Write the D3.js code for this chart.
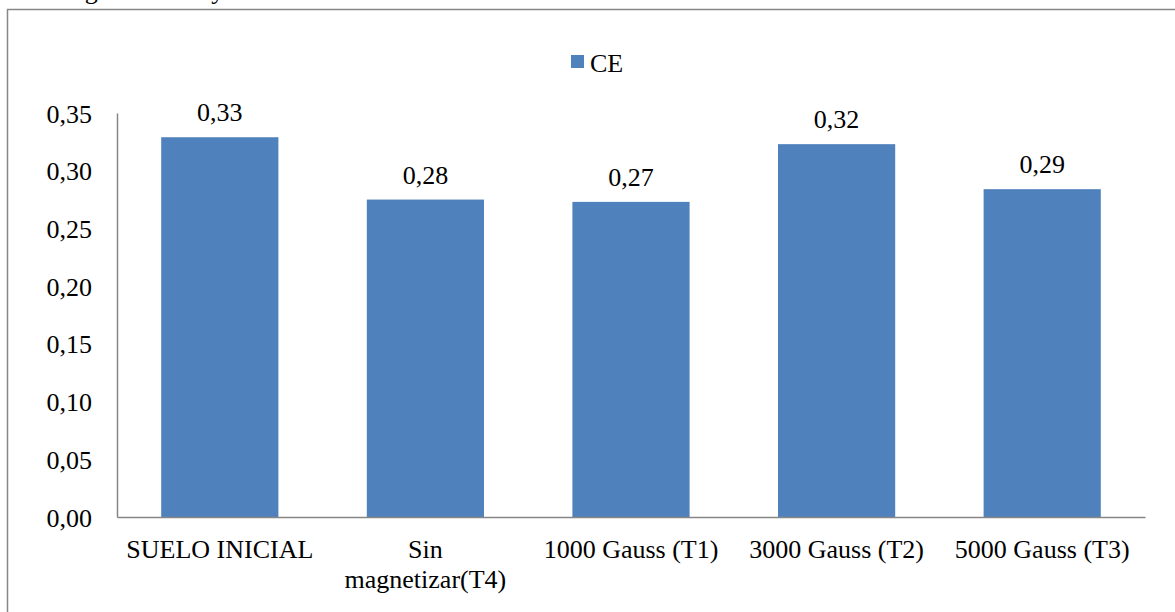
<!DOCTYPE html>
<html>
<head>
<meta charset="utf-8">
<script src="https://cdn.jsdelivr.net/npm/d3@7"></script>
<style>
  body { margin: 0; background: #fff; }
  svg { display: block; font-family: "Liberation Serif", "Times New Roman", serif; }
</style>
</head>
<body>
<svg id="chart" width="1175" height="612"></svg>
<script>
const categories = [["SUELO INICIAL"], ["Sin", "magnetizar(T4)"], ["1000 Gauss (T1)"], ["3000 Gauss (T2)"], ["5000 Gauss (T3)"]];
const values = [0.329, 0.275, 0.273, 0.323, 0.284];
const valueLabels = ["0,33", "0,28", "0,27", "0,32", "0,29"];
const yTicks = [0, 0.05, 0.10, 0.15, 0.20, 0.25, 0.30, 0.35];
const seriesName = "CE";

const svg = d3.select("#chart");
const color = "#4f81bd";
const FONT = "'Liberation Serif', 'Times New Roman', serif";
const FS = 26;
const fmt = v => v.toFixed(2).replace(".", ",");

// cut-off caption at the top
svg.append("text").attr("x", 22).attr("y", -1)
  .attr("font-size", FS).attr("font-family", FONT).attr("fill", "#000")
  .text("de magnetización y a la vez de suelo inicial.");

// chart frame
svg.append("path")
  .attr("d", "M7.5,640 L7.5,9.5 L1180,9.5")
  .attr("fill", "none").attr("stroke", "#868686").attr("stroke-width", 1.5);

const x0 = 117, x1 = 1145, yTop = 113, yBot = 517;
const x = d3.scaleBand().domain(categories.map((c, i) => i)).range([x0, x1]).paddingInner(0.43).paddingOuter(0.215);
const y = d3.scaleLinear().domain([0, 0.35]).range([yBot, yTop]);

// bars
svg.append("g").selectAll("rect").data(values).join("rect")
  .attr("x", (d, i) => x(i)).attr("width", x.bandwidth())
  .attr("y", d => y(d)).attr("height", d => yBot - y(d))
  .attr("fill", color);

// value labels
svg.append("g").selectAll("text").data(values).join("text")
  .attr("x", (d, i) => x(i) + x.bandwidth() / 2)
  .attr("y", d => y(d) - 16)
  .attr("text-anchor", "middle").attr("font-size", FS).attr("font-family", FONT).attr("fill", "#000")
  .text((d, i) => valueLabels[i]);

// y axis
const yAxis = d3.axisLeft(y).tickValues(yTicks).tickFormat(fmt).tickSize(0).tickPadding(25);
const gy = svg.append("g").attr("transform", `translate(${x0},0)`).call(yAxis);
gy.select(".domain").attr("stroke", "#868686").attr("stroke-width", 1.5);
gy.selectAll("text").attr("font-size", FS).attr("font-family", FONT).attr("fill", "#000").attr("dy", "0.35em");

// x axis
const xAxis = d3.axisBottom(x).tickSize(0).tickFormat("");
const gx = svg.append("g").attr("transform", `translate(0,${yBot})`).call(xAxis);
gx.select(".domain").attr("stroke", "#868686").attr("stroke-width", 1.5);
gx.selectAll(".tick").each(function(d) {
  const t = d3.select(this).append("text")
    .attr("text-anchor", "middle").attr("font-size", FS).attr("fill", "#000")
    .attr("font-family", FONT);
  categories[d].forEach((line, j) => {
    t.append("tspan").attr("x", 0).attr("y", 41 + j * 30).text(line);
  });
});

// legend
const lg = svg.append("g").attr("transform", "translate(571,55)");
lg.append("rect").attr("width", 13).attr("height", 13).attr("fill", color);
lg.append("text").attr("x", 19).attr("y", 17).attr("font-size", FS).attr("font-family", FONT).attr("fill", "#000").text(seriesName);
</script>
</body>
</html>
